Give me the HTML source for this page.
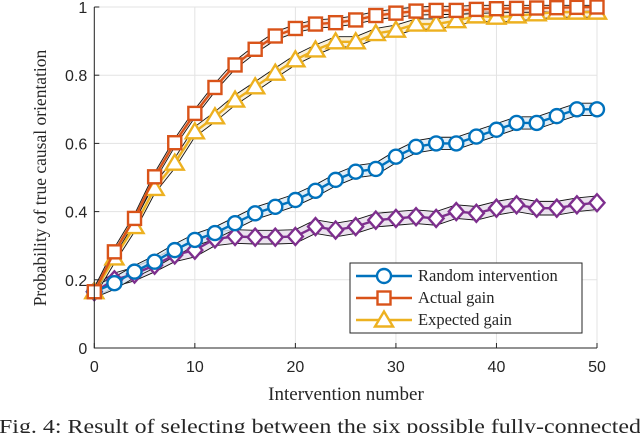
<!DOCTYPE html>
<html><head><meta charset="utf-8"><style>
html,body{margin:0;padding:0;background:#fff;width:640px;height:433px;overflow:hidden}
svg{display:block}
.tk{font-family:"Liberation Sans",sans-serif;font-size:16px;fill:#262626}
.sf{font-family:"Liberation Serif",serif;fill:#262626}
</style></head><body>
<svg id="chart" width="640" height="433">
<g id="grid"></g>
<g id="bands"></g>
<g id="series"></g>
<g id="axes"></g>
<text class="sf" x="346" y="400" font-size="19" text-anchor="middle">Intervention number</text>
<text class="sf" transform="translate(46,178) rotate(-90)" font-size="17.5" text-anchor="middle">Probability of true causal orientation</text>
<text class="sf" x="-1" y="433" font-size="20.5" textLength="642" lengthAdjust="spacingAndGlyphs" fill="#111">Fig. 4: Result of selecting between the six possible fully-connected</text>
<g id="legend"></g>
</svg>
<script>
const xs = [0,2,4,6,8,10,12,14,16,18,20,22,24,26,28,30,32,34,36,38,40,42,44,46,48,50];
const randomVals = [0.165,0.19,0.224,0.253,0.287,0.317,0.337,0.366,0.395,0.414,0.434,0.461,0.493,0.517,0.525,0.561,0.59,0.6,0.6,0.62,0.64,0.66,0.66,0.68,0.70,0.70];
const actualVals = [0.165,0.282,0.38,0.502,0.602,0.688,0.764,0.83,0.876,0.915,0.937,0.95,0.954,0.962,0.975,0.982,0.988,0.99,0.99,0.993,0.995,0.996,0.997,0.998,0.999,1.0];
const expectedVals = [0.165,0.264,0.356,0.468,0.542,0.634,0.678,0.727,0.766,0.806,0.845,0.874,0.898,0.898,0.922,0.932,0.95,0.95,0.96,0.974,0.97,0.974,0.98,0.985,0.985,0.985];
const purpleVals = [0.165,0.2,0.217,0.243,0.273,0.287,0.32,0.327,0.325,0.325,0.327,0.356,0.346,0.356,0.375,0.38,0.385,0.38,0.4,0.395,0.41,0.42,0.41,0.41,0.42,0.426];
const bandHalf = [0.018,0.012,0.015,0.02];
const xTicks = [0,10,20,30,40,50];
const yTicks = [0,0.2,0.4,0.6,0.8,1];
const legendLabels = ["Random intervention","Actual gain","Expected gain"];

const X0=94.3,X1=597,Y0=348,Y1=7;
const sx=v=>X0+(v-0)/(50-0)*(X1-X0);
const sy=v=>Y0-(v-0)/(1-0)*(Y0-Y1);
const NS="http://www.w3.org/2000/svg";
function mk(t,a,p){const e=document.createElementNS(NS,t);for(const k in a)e.setAttribute(k,a[k]);p.appendChild(e);return e;}
const grid=document.getElementById('grid'),axes=document.getElementById('axes'),bands=document.getElementById('bands'),ser=document.getElementById('series');
xTicks.forEach(t=>{
  const g=mk('line',{x1:sx(t),x2:sx(t),y1:Y1,y2:Y0,stroke:'#e3e3e3','stroke-width':1},grid);
  
  
  const tk=mk('line',{x1:sx(t),x2:sx(t),y1:Y0,y2:Y0-5,stroke:'#262626','stroke-width':1},axes);
  
  
  const l=mk('text',{x:sx(t),y:Y0+24,'text-anchor':'middle',class:'tk'},axes);l.textContent=t;
  
  
});
yTicks.forEach(t=>{
  const g=mk('line',{x1:X0,x2:X1,y1:sy(t),y2:sy(t),stroke:'#e3e3e3','stroke-width':1},grid);
  
  
  const tk=mk('line',{x1:X0,x2:X0+5,y1:sy(t),y2:sy(t),stroke:'#262626','stroke-width':1},axes);
  
  
  const l=mk('text',{x:X0-7,y:sy(t)+6,'text-anchor':'end',class:'tk'},axes);l.textContent=t;
  
  
});
const ax=mk('path',{d:`M${X0},${Y1}V${Y0}H${X1}`,fill:'none',stroke:'#262626','stroke-width':1},axes);



const defs=[
 {vals:purpleVals,color:'#7E2F8E',fill:'#e6dcea',m:'diamond',name:'purple',b:bandHalf[3]},
 {vals:randomVals,color:'#0072BD',fill:'#d8e9f5',m:'circle',name:'random-intervention',b:bandHalf[0]},
 {vals:expectedVals,color:'#EDB120',fill:'#f7ecd2',m:'triangle',name:'expected-gain',b:bandHalf[2]},
 {vals:actualVals,color:'#D95319',fill:'#f5dccf',m:'square',name:'actual-gain',b:bandHalf[1]},
];
function marker(type,cx,cy,color,p){
  let e;
  if(type==='circle')e=mk('circle',{cx,cy,r:7},p);
  else if(type==='square')e=mk('rect',{x:cx-6.5,y:cy-6.5,width:13,height:13},p);
  else if(type==='triangle')e=mk('polygon',{points:`${cx},${cy-8.5} ${cx+9},${cy+6.5} ${cx-9},${cy+6.5}`},p);
  else e=mk('polygon',{points:`${cx},${cy-8.5} ${cx+7.5},${cy} ${cx},${cy+8.5} ${cx-7.5},${cy}`},p);
  e.setAttribute('fill','#fff');e.setAttribute('stroke',color);e.setAttribute('stroke-width',2.4);
  return e;
}
defs.forEach(d=>{
  const up=xs.map((x,i)=>[sx(x),sy(Math.min(1.005,d.vals[i]+d.b))]);
  const lo=xs.map((x,i)=>[sx(x),sy(d.vals[i]-d.b)]);
  const area=mk('path',{d:'M'+up.map(p=>p.join(',')).join('L')+'L'+lo.slice().reverse().map(p=>p.join(',')).join('L')+'Z',fill:d.fill,opacity:0.8},bands);
  
  
  [up,lo].forEach(pts=>{
    const bl=mk('polyline',{points:pts.map(p=>p.join(',')).join(' '),fill:'none',stroke:'#111','stroke-width':0.9},bands);
    
    
  });
});
defs.forEach(d=>{
  const g=mk('g',{},ser);
  
  
  const ln=mk('polyline',{points:xs.map((x,i)=>sx(x)+','+sy(d.vals[i])).join(' '),fill:'none',stroke:d.color,'stroke-width':2.4},g);
  
  
  xs.forEach((x,i)=>{
    const m=marker(d.m,sx(x),sy(d.vals[i]),d.color,g);
    
    
  });
});
const lg=document.getElementById('legend');
const box=mk('rect',{x:350,y:263,width:232,height:70,fill:'#fff',stroke:'#262626','stroke-width':1},lg);


const lc=[defs[1],defs[3],defs[2]];
legendLabels.forEach((t,i)=>{
  const y=276+i*22;
  const e=mk('g',{},lg);
  
  
  mk('line',{x1:356,x2:412,y1:y,y2:y,stroke:lc[i].color,'stroke-width':2.4},e);
  marker(lc[i].m,384,y,lc[i].color,e);
  const tx=mk('text',{x:418,y:y+5,class:'sf','font-size':16.5},e);tx.textContent=t;
});
</script>
</body></html>
